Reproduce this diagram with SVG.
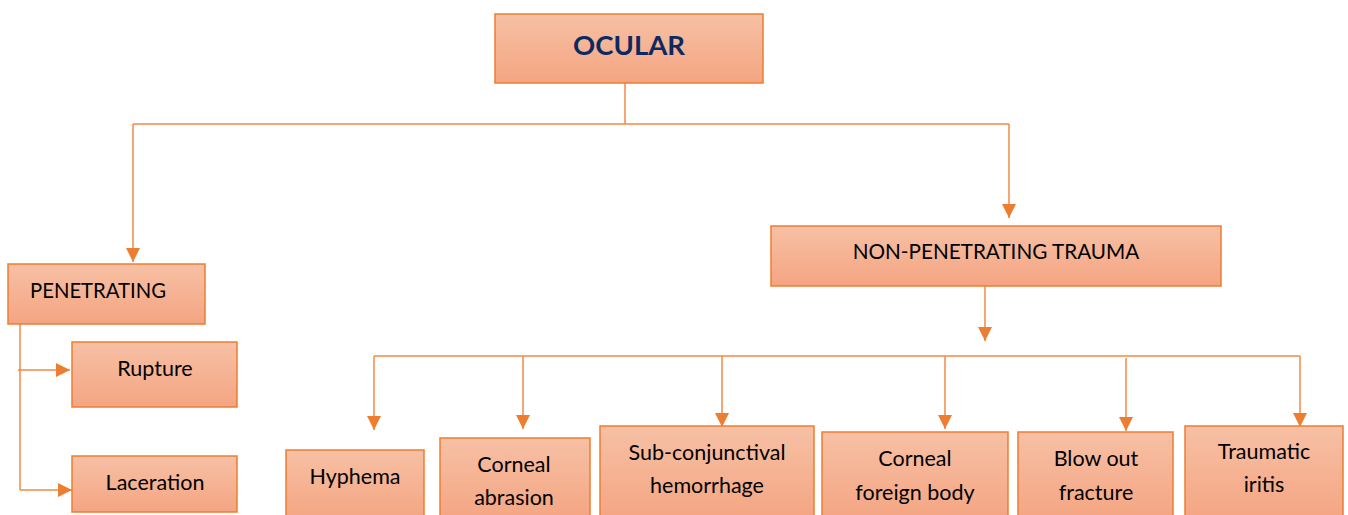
<svg xmlns="http://www.w3.org/2000/svg" width="1348" height="515" viewBox="0 0 1348 515">
<defs>
<linearGradient id="g" x1="0" y1="0" x2="0" y2="1">
<stop offset="0" stop-color="#F7C0A5"/>
<stop offset="1" stop-color="#F4A582"/>
</linearGradient>
<marker id="ah" markerUnits="userSpaceOnUse" markerWidth="16" markerHeight="16" viewBox="0 0 16 16" refX="15" refY="8" orient="auto">
<path d="M1,1 L15,8 L1,15 Z" fill="#ED7D31"/>
</marker>
<style>
.box{fill:url(#g);stroke:#ED7D31;stroke-width:1.5}
.t{font-family:Lato,"Open Sans","Liberation Sans",sans-serif;font-size:21.5px;fill:#000;text-anchor:middle}
.ln{fill:none;stroke:#F08A45;stroke-width:1.5}
</style>
</defs>
<g id="connectors">
<path class="ln" d="M625,83 V124"/>
<path class="ln" d="M133,124 H1009"/>
<path class="ln" d="M133,124 V262" marker-end="url(#ah)"/>
<path class="ln" d="M1009,124 V218" marker-end="url(#ah)"/>
<path class="ln" d="M20,320 V490"/>
<path class="ln" d="M18,370 H70" marker-end="url(#ah)"/>
<path class="ln" d="M20,490 H72" marker-end="url(#ah)"/>
<path class="ln" d="M985,286 V341" marker-end="url(#ah)"/>
<path class="ln" d="M374,356 H1300"/>
<path class="ln" d="M374,356 V430" marker-end="url(#ah)"/>
<path class="ln" d="M523,356 V429" marker-end="url(#ah)"/>
<path class="ln" d="M722,356 V427" marker-end="url(#ah)"/>
<path class="ln" d="M945,356 V429" marker-end="url(#ah)"/>
<path class="ln" d="M1126,358 V431" marker-end="url(#ah)"/>
<path class="ln" d="M1300,356 V427" marker-end="url(#ah)"/>
</g>
<g id="ocular">
<rect class="box" x="495" y="14" width="268" height="69"/>
<text x="629" y="55" style="font-family:Lato,'Open Sans','Liberation Sans',sans-serif;font-size:27.5px;font-weight:bold;fill:#0B2A62;text-anchor:middle">OCULAR</text>
</g>
<g id="penetrating">
<rect class="box" x="8" y="264" width="197" height="60"/>
<text class="t" x="30" y="298" style="text-anchor:start;font-size:20.3px">PENETRATING</text>
</g>
<g id="rupture">
<rect class="box" x="72" y="342" width="165" height="65"/>
<text class="t" x="155" y="376">Rupture</text>
</g>
<g id="laceration">
<rect class="box" x="72" y="456" width="165" height="56"/>
<text class="t" x="155" y="490">Laceration</text>
</g>
<g id="nonpenetrating">
<rect class="box" x="771" y="226" width="450" height="60"/>
<text class="t" x="996" y="259" style="font-size:20.7px">NON-PENETRATING TRAUMA</text>
</g>
<g id="hyphema">
<rect class="box" x="286" y="450" width="138" height="70"/>
<text class="t" x="355" y="484">Hyphema</text>
</g>
<g id="corneal-abrasion">
<rect class="box" x="440" y="438" width="150" height="82"/>
<text class="t" x="514" y="472">Corneal</text>
<text class="t" x="514" y="505">abrasion</text>
</g>
<g id="subconjunctival">
<rect class="box" x="600" y="426" width="214" height="94"/>
<text class="t" x="707" y="460">Sub-conjunctival</text>
<text class="t" x="707" y="493">hemorrhage</text>
</g>
<g id="corneal-foreign-body">
<rect class="box" x="822" y="432" width="186" height="88"/>
<text class="t" x="915" y="466">Corneal</text>
<text class="t" x="915" y="500">foreign body</text>
</g>
<g id="blow-out-fracture">
<rect class="box" x="1018" y="432" width="155" height="88"/>
<text class="t" x="1096" y="466">Blow out</text>
<text class="t" x="1096" y="500">fracture</text>
</g>
<g id="traumatic-iritis">
<rect class="box" x="1185" y="426" width="158" height="94"/>
<text class="t" x="1264" y="459">Traumatic</text>
<text class="t" x="1264" y="492">iritis</text>
</g>
</svg>
